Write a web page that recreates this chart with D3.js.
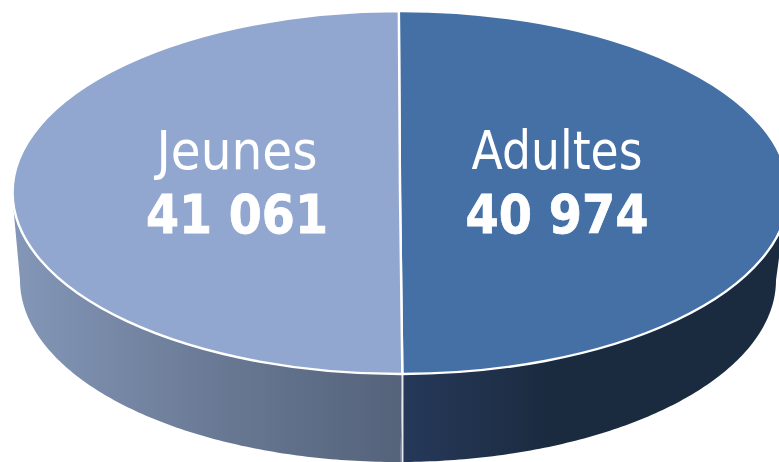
<!DOCTYPE html>
<html>
<head>
<meta charset="utf-8">
<script src="https://cdnjs.cloudflare.com/ajax/libs/d3/7.8.5/d3.min.js"></script>
<style>
  html, body { margin: 0; padding: 0; background: #fff; overflow: hidden; }
  text { font-family: "DejaVu Sans", sans-serif; fill: #fff; text-anchor: middle; }
</style>
</head>
<body>
<svg id="chart" width="779" height="462"></svg>
<script>
const categories = ['Adultes', 'Jeunes'];
const values = [40974, 41061];
const valueLabels = ['40 974', '41 061'];
const topColors = ['#4570a6', '#92a7cf'];

const svg = d3.select('#chart');

// top ellipse, and a slightly smaller one for the bottom edge (perspective)
const cx = 400, cy = 192.5, rx = 388, ry = 181.5;
const startAngle = -0.003;

const xScale = d3.scaleLinear().domain([-1, 1]).range([cx - rx, cx + rx]);
const yScale = d3.scaleLinear().domain([-1, 1]).range([cy - ry, cy + ry]);
const xBottom = d3.scaleLinear().domain([-1, 1]).range([20, 776]);
const yBottom = d3.scaleLinear().domain([-1, 1]).range([98, 462]);

const pie = d3.pie().sort(null)
  .startAngle(startAngle)
  .endAngle(startAngle + 2 * Math.PI);
const slices = pie(values);

// wall shading runs right to left in both gradients
const wallStops = [
  [['0%', '#1a2b40'], ['62%', '#1a2b40'], ['100%', '#27395a']],
  [['0%', '#54627a'], ['45%', '#687893'], ['100%', '#8497b8']]
];
const defs = svg.append('defs');
wallStops.forEach((stops, i) => {
  const lg = defs.append('linearGradient').attr('id', `wall${i}`)
    .attr('x1', 1).attr('x2', 0).attr('y1', 0).attr('y2', 0);
  stops.forEach(s => lg.append('stop').attr('offset', s[0]).attr('stop-color', s[1]));
});

// only the front half of the rim can be seen
const wallAngles = (a0, a1) => {
  const lo = Math.max(a0, Math.PI / 2), hi = Math.min(a1, Math.PI * 1.5);
  return d3.range(0, 121).map(i => lo + (hi - lo) * i / 120);
};
const wallArea = d3.area()
  .x0(a => xScale(Math.sin(a)))
  .y0(a => yScale(-Math.cos(a)))
  .x1(a => xBottom(Math.sin(a)))
  .y1(a => yBottom(-Math.cos(a)));

const walls = svg.append('g');
walls.selectAll('path').data(slices).enter().append('path')
  .attr('d', d => wallArea(wallAngles(d.startAngle, d.endAngle)))
  .attr('fill', (d, i) => `url(#wall${i})`);

// divider on the wall
const frontEnd = slices[0].endAngle;
walls.append('line')
  .attr('x1', xScale(Math.sin(frontEnd))).attr('x2', xScale(Math.sin(frontEnd)))
  .attr('y1', yScale(-Math.cos(frontEnd)))
  .attr('y2', yBottom(-Math.cos(frontEnd)))
  .attr('stroke', '#e4e7ec').attr('stroke-width', 2);

// top face, d3.arc on a unit radius then stretched to the ellipse
const arc = d3.arc().innerRadius(0).outerRadius(1);
const topFace = svg.append('g')
  .attr('transform', `translate(${cx},${cy}) scale(${rx},${ry})`);
topFace.selectAll('path').data(slices).enter().append('path')
  .attr('d', arc)
  .attr('fill', (d, i) => topColors[i])
  .attr('stroke', '#fff')
  .attr('stroke-width', 2.4)
  .attr('vector-effect', 'non-scaling-stroke')
  .attr('stroke-linejoin', 'round');

// labels, squeezed to the reference widths
const labelX = [557, 237];
const nameLength = [171, 161];
const valueLength = [183, 182];
const labels = svg.append('g');
categories.forEach((c, i) => {
  labels.append('text')
    .attr('x', labelX[i]).attr('y', 169)
    .attr('font-size', 53)
    .attr('textLength', nameLength[i])
    .attr('lengthAdjust', 'spacingAndGlyphs')
    .text(c);
  labels.append('text')
    .attr('x', labelX[i]).attr('y', 233)
    .attr('font-size', 53)
    .attr('font-weight', 'bold')
    .attr('stroke', '#fff')
    .attr('stroke-width', 0.8)
    .attr('textLength', valueLength[i])
    .attr('lengthAdjust', 'spacingAndGlyphs')
    .text(valueLabels[i]);
});
</script>
</body>
</html>
